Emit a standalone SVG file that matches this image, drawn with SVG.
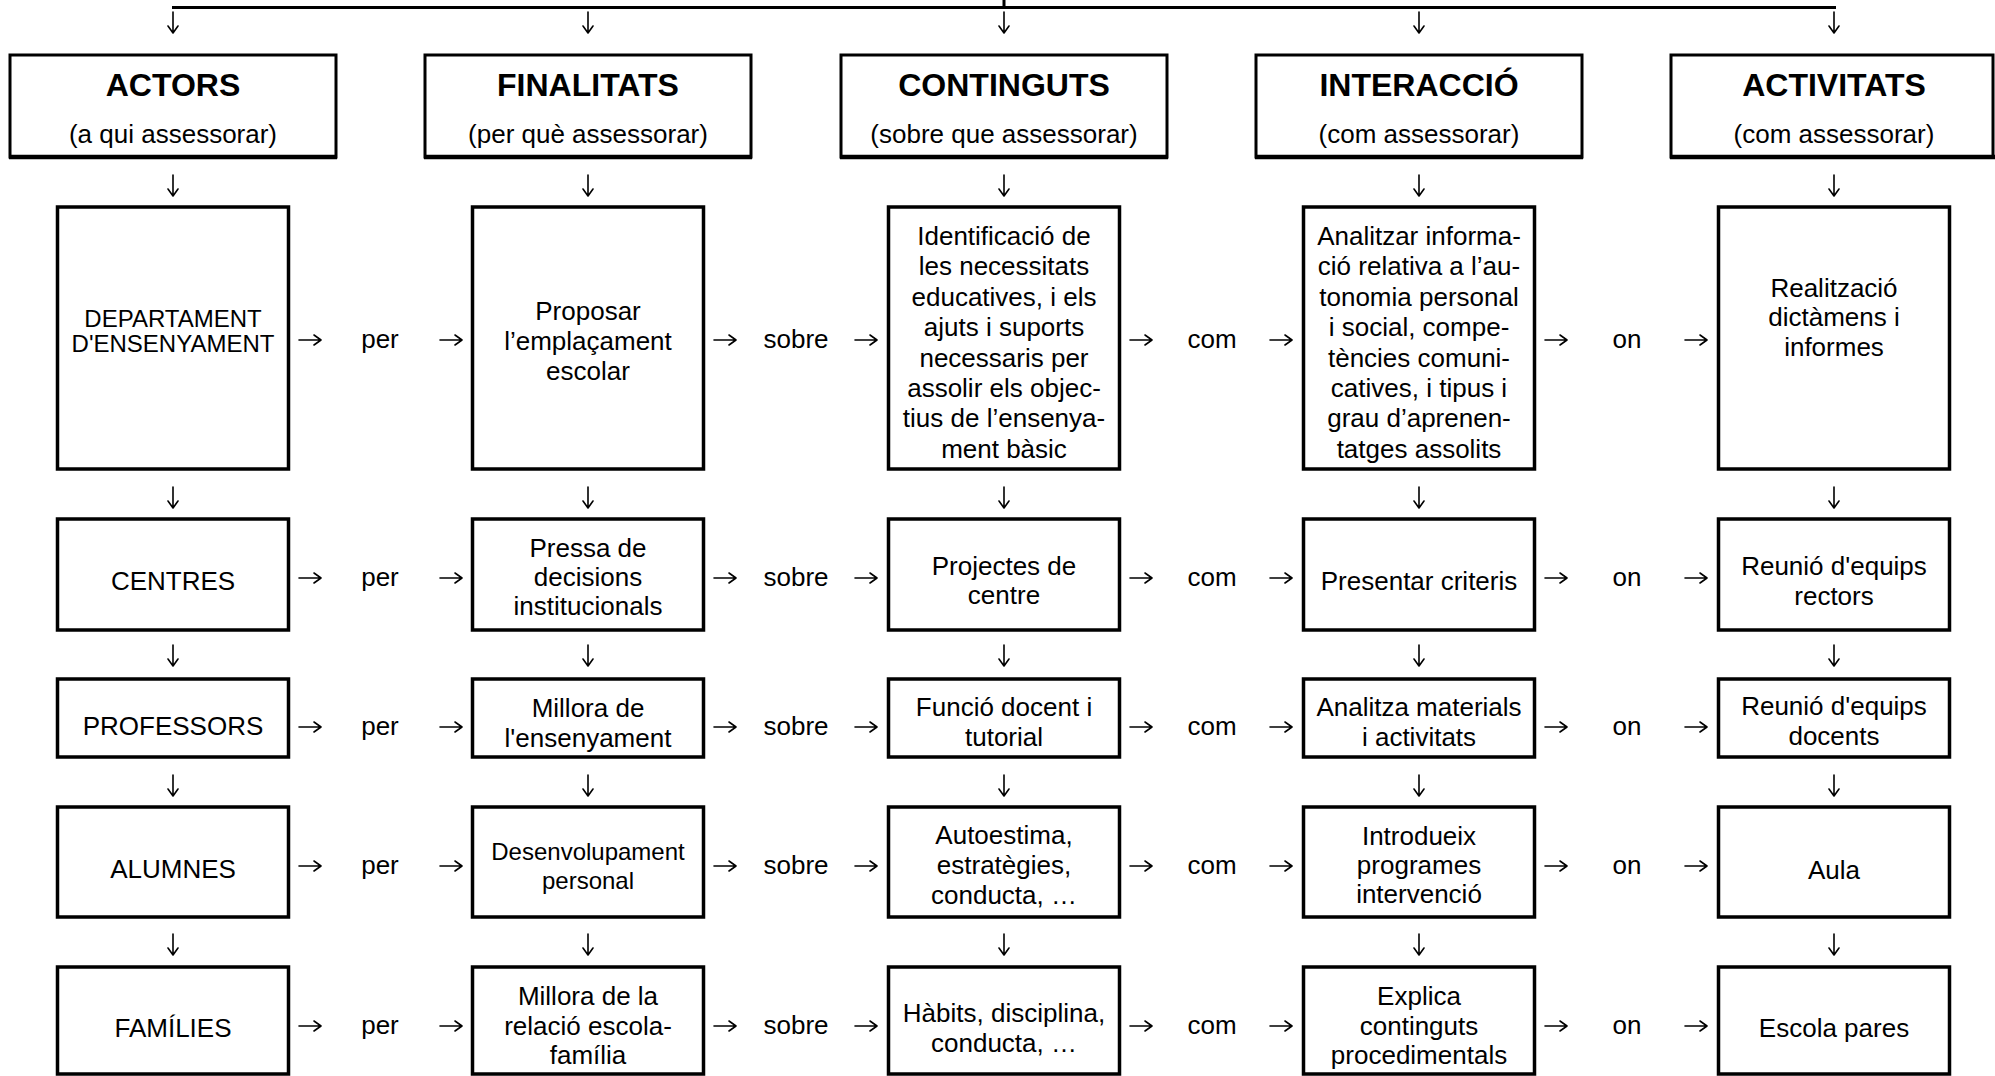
<svg xmlns="http://www.w3.org/2000/svg" xmlns:xlink="http://www.w3.org/1999/xlink" width="1995" height="1076" viewBox="0 0 1995 1076">
<style>
.bg{fill:#fff}
.hbox{fill:#fff;stroke:#000;stroke-width:3}
.hbot{stroke:#000;stroke-width:4.5}
.box{fill:#fff;stroke:#000;stroke-width:3.5}
.line{stroke:#000;stroke-width:3;fill:none}
.arr{stroke:#000;stroke-width:1.6;fill:none;stroke-linecap:round;stroke-linejoin:round}
text{font-family:"Liberation Sans",Arial,Helvetica,sans-serif;fill:#000;text-anchor:middle}
.title{font-size:32px;font-weight:bold}
.sub{font-size:26px}
.t{font-size:26px}
.s{font-size:24px}
.lbl{font-size:26px}
</style>
<defs>
<path id="ad" d="M0,0 V21 M-5,14 L0,21 L5,14"/>
<path id="ar" d="M0,0 H22 M15,-5 L22,0 L15,5"/>
</defs>
<rect class="bg" x="0" y="0" width="1995" height="1076"/>

<g id="connectors">
<path class="line" d="M172,7.5 H1836 M1004,0 V7.5"/>
<g class="arr">
<use xlink:href="#ad" x="173" y="12"/><use xlink:href="#ad" x="588" y="12"/><use xlink:href="#ad" x="1004" y="12"/><use xlink:href="#ad" x="1419" y="12"/><use xlink:href="#ad" x="1834" y="12"/>
<use xlink:href="#ad" x="173" y="175"/><use xlink:href="#ad" x="588" y="175"/><use xlink:href="#ad" x="1004" y="175"/><use xlink:href="#ad" x="1419" y="175"/><use xlink:href="#ad" x="1834" y="175"/>
<use xlink:href="#ad" x="173" y="487"/><use xlink:href="#ad" x="588" y="487"/><use xlink:href="#ad" x="1004" y="487"/><use xlink:href="#ad" x="1419" y="487"/><use xlink:href="#ad" x="1834" y="487"/>
<use xlink:href="#ad" x="173" y="645"/><use xlink:href="#ad" x="588" y="645"/><use xlink:href="#ad" x="1004" y="645"/><use xlink:href="#ad" x="1419" y="645"/><use xlink:href="#ad" x="1834" y="645"/>
<use xlink:href="#ad" x="173" y="775"/><use xlink:href="#ad" x="588" y="775"/><use xlink:href="#ad" x="1004" y="775"/><use xlink:href="#ad" x="1419" y="775"/><use xlink:href="#ad" x="1834" y="775"/>
<use xlink:href="#ad" x="173" y="934"/><use xlink:href="#ad" x="588" y="934"/><use xlink:href="#ad" x="1004" y="934"/><use xlink:href="#ad" x="1419" y="934"/><use xlink:href="#ad" x="1834" y="934"/>

<use xlink:href="#ar" x="299" y="340"/><use xlink:href="#ar" x="440" y="340"/>
<use xlink:href="#ar" x="714" y="340"/><use xlink:href="#ar" x="855" y="340"/>
<use xlink:href="#ar" x="1130" y="340"/><use xlink:href="#ar" x="1270" y="340"/>
<use xlink:href="#ar" x="1545" y="340"/><use xlink:href="#ar" x="1685" y="340"/>

<use xlink:href="#ar" x="299" y="578"/><use xlink:href="#ar" x="440" y="578"/>
<use xlink:href="#ar" x="714" y="578"/><use xlink:href="#ar" x="855" y="578"/>
<use xlink:href="#ar" x="1130" y="578"/><use xlink:href="#ar" x="1270" y="578"/>
<use xlink:href="#ar" x="1545" y="578"/><use xlink:href="#ar" x="1685" y="578"/>

<use xlink:href="#ar" x="299" y="727"/><use xlink:href="#ar" x="440" y="727"/>
<use xlink:href="#ar" x="714" y="727"/><use xlink:href="#ar" x="855" y="727"/>
<use xlink:href="#ar" x="1130" y="727"/><use xlink:href="#ar" x="1270" y="727"/>
<use xlink:href="#ar" x="1545" y="727"/><use xlink:href="#ar" x="1685" y="727"/>

<use xlink:href="#ar" x="299" y="866"/><use xlink:href="#ar" x="440" y="866"/>
<use xlink:href="#ar" x="714" y="866"/><use xlink:href="#ar" x="855" y="866"/>
<use xlink:href="#ar" x="1130" y="866"/><use xlink:href="#ar" x="1270" y="866"/>
<use xlink:href="#ar" x="1545" y="866"/><use xlink:href="#ar" x="1685" y="866"/>

<use xlink:href="#ar" x="299" y="1026"/><use xlink:href="#ar" x="440" y="1026"/>
<use xlink:href="#ar" x="714" y="1026"/><use xlink:href="#ar" x="855" y="1026"/>
<use xlink:href="#ar" x="1130" y="1026"/><use xlink:href="#ar" x="1270" y="1026"/>
<use xlink:href="#ar" x="1545" y="1026"/><use xlink:href="#ar" x="1685" y="1026"/>
</g>
<g class="lbl">
<text class="lbl" x="380" y="348">per</text><text class="lbl" x="796" y="348">sobre</text><text class="lbl" x="1212" y="348">com</text><text class="lbl" x="1627" y="348">on</text>
<text class="lbl" x="380" y="586">per</text><text class="lbl" x="796" y="586">sobre</text><text class="lbl" x="1212" y="586">com</text><text class="lbl" x="1627" y="586">on</text>
<text class="lbl" x="380" y="735">per</text><text class="lbl" x="796" y="735">sobre</text><text class="lbl" x="1212" y="735">com</text><text class="lbl" x="1627" y="735">on</text>
<text class="lbl" x="380" y="874">per</text><text class="lbl" x="796" y="874">sobre</text><text class="lbl" x="1212" y="874">com</text><text class="lbl" x="1627" y="874">on</text>
<text class="lbl" x="380" y="1034">per</text><text class="lbl" x="796" y="1034">sobre</text><text class="lbl" x="1212" y="1034">com</text><text class="lbl" x="1627" y="1034">on</text>
</g>
</g>

<!-- Header nodes -->
<g id="h-actors"><rect class="hbox" x="10" y="55" width="326" height="102"/><line class="hbot" x1="9" y1="157" x2="337" y2="157"/><text class="title" x="173" y="96">ACTORS</text><text class="sub" x="173" y="143">(a qui assessorar)</text></g>
<g id="h-finalitats"><rect class="hbox" x="425" y="55" width="326" height="102"/><line class="hbot" x1="424" y1="157" x2="752" y2="157"/><text class="title" x="588" y="96">FINALITATS</text><text class="sub" x="588" y="143">(per què assessorar)</text></g>
<g id="h-continguts"><rect class="hbox" x="841" y="55" width="326" height="102"/><line class="hbot" x1="840" y1="157" x2="1168" y2="157"/><text class="title" x="1004" y="96">CONTINGUTS</text><text class="sub" x="1004" y="143">(sobre que assessorar)</text></g>
<g id="h-interaccio"><rect class="hbox" x="1256" y="55" width="326" height="102"/><line class="hbot" x1="1255" y1="157" x2="1583" y2="157"/><text class="title" x="1419" y="96">INTERACCIÓ</text><text class="sub" x="1419" y="143">(com assessorar)</text></g>
<g id="h-activitats"><rect class="hbox" x="1671" y="55" width="322" height="102"/><line class="hbot" x1="1670" y1="157" x2="1995" y2="157"/><text class="title" x="1834" y="96">ACTIVITATS</text><text class="sub" x="1834" y="143">(com assessorar)</text></g>

<!-- Column 1: actors -->
<g id="a-departament"><rect class="box" x="57.5" y="207" width="231" height="262"/><text class="s" x="173" y="327">DEPARTAMENT</text><text class="s" x="173" y="352">D'ENSENYAMENT</text></g>
<g id="a-centres"><rect class="box" x="57.5" y="519" width="231" height="111"/><text class="t" x="173" y="590">CENTRES</text></g>
<g id="a-professors"><rect class="box" x="57.5" y="679" width="231" height="78"/><text class="t" x="173" y="735">PROFESSORS</text></g>
<g id="a-alumnes"><rect class="box" x="57.5" y="807" width="231" height="110"/><text class="t" x="173" y="878">ALUMNES</text></g>
<g id="a-families"><rect class="box" x="57.5" y="967" width="231" height="107"/><text class="t" x="173" y="1037">FAMÍLIES</text></g>

<!-- Column 2: finalitats -->
<g id="f-1"><rect class="box" x="472.5" y="207" width="231" height="262"/><text class="t" x="588" y="320">Proposar</text><text class="t" x="588" y="350">l’emplaçament</text><text class="t" x="588" y="380">escolar</text></g>
<g id="f-2"><rect class="box" x="472.5" y="519" width="231" height="111"/><text class="t" x="588" y="557">Pressa de</text><text class="t" x="588" y="586">decisions</text><text class="t" x="588" y="615">institucionals</text></g>
<g id="f-3"><rect class="box" x="472.5" y="679" width="231" height="78"/><text class="t" x="588" y="717">Millora de</text><text class="t" x="588" y="747">l'ensenyament</text></g>
<g id="f-4"><rect class="box" x="472.5" y="807" width="231" height="110"/><text class="s" x="588" y="860">Desenvolupament</text><text class="s" x="588" y="889">personal</text></g>
<g id="f-5"><rect class="box" x="472.5" y="967" width="231" height="107"/><text class="t" x="588" y="1005">Millora de la</text><text class="t" x="588" y="1035">relació escola-</text><text class="t" x="588" y="1064">família</text></g>

<!-- Column 3: continguts -->
<g id="c-1"><rect class="box" x="888.5" y="207" width="231" height="262"/>
<text class="t" x="1004" y="245">Identificació de</text>
<text class="t" x="1004" y="275.4">les necessitats</text>
<text class="t" x="1004" y="305.8">educatives, i els</text>
<text class="t" x="1004" y="336.2">ajuts i suports</text>
<text class="t" x="1004" y="366.6">necessaris per</text>
<text class="t" x="1004" y="397">assolir els objec-</text>
<text class="t" x="1004" y="427.4">tius de l’ensenya-</text>
<text class="t" x="1004" y="457.8">ment bàsic</text></g>
<g id="c-2"><rect class="box" x="888.5" y="519" width="231" height="111"/><text class="t" x="1004" y="575">Projectes de</text><text class="t" x="1004" y="604">centre</text></g>
<g id="c-3"><rect class="box" x="888.5" y="679" width="231" height="78"/><text class="t" x="1004" y="716">Funció docent i</text><text class="t" x="1004" y="746">tutorial</text></g>
<g id="c-4"><rect class="box" x="888.5" y="807" width="231" height="110"/><text class="t" x="1004" y="844">Autoestima,</text><text class="t" x="1004" y="874">estratègies,</text><text class="t" x="1004" y="904">conducta, …</text></g>
<g id="c-5"><rect class="box" x="888.5" y="967" width="231" height="107"/><text class="t" x="1004" y="1022">Hàbits, disciplina,</text><text class="t" x="1004" y="1052">conducta, …</text></g>

<!-- Column 4: interaccio -->
<g id="i-1"><rect class="box" x="1303.5" y="207" width="231" height="262"/>
<text class="t" x="1419" y="245">Analitzar informa-</text>
<text class="t" x="1419" y="275.4">ció relativa a l’au-</text>
<text class="t" x="1419" y="305.8">tonomia personal</text>
<text class="t" x="1419" y="336.2">i social, compe-</text>
<text class="t" x="1419" y="366.6">tències comuni-</text>
<text class="t" x="1419" y="397">catives, i tipus i</text>
<text class="t" x="1419" y="427.4">grau d’aprenen-</text>
<text class="t" x="1419" y="457.8">tatges assolits</text></g>
<g id="i-2"><rect class="box" x="1303.5" y="519" width="231" height="111"/><text class="t" x="1419" y="590">Presentar criteris</text></g>
<g id="i-3"><rect class="box" x="1303.5" y="679" width="231" height="78"/><text class="t" x="1419" y="716">Analitza materials</text><text class="t" x="1419" y="746">i activitats</text></g>
<g id="i-4"><rect class="box" x="1303.5" y="807" width="231" height="110"/><text class="t" x="1419" y="845">Introdueix</text><text class="t" x="1419" y="874">programes</text><text class="t" x="1419" y="903">intervenció</text></g>
<g id="i-5"><rect class="box" x="1303.5" y="967" width="231" height="107"/><text class="t" x="1419" y="1005">Explica</text><text class="t" x="1419" y="1035">continguts</text><text class="t" x="1419" y="1064">procedimentals</text></g>

<!-- Column 5: activitats -->
<g id="ac-1"><rect class="box" x="1718.5" y="207" width="231" height="262"/><text class="t" x="1834" y="297">Realització</text><text class="t" x="1834" y="326">dictàmens i</text><text class="t" x="1834" y="356">informes</text></g>
<g id="ac-2"><rect class="box" x="1718.5" y="519" width="231" height="111"/><text class="t" x="1834" y="575">Reunió d'equips</text><text class="t" x="1834" y="605">rectors</text></g>
<g id="ac-3"><rect class="box" x="1718.5" y="679" width="231" height="78"/><text class="t" x="1834" y="715">Reunió d'equips</text><text class="t" x="1834" y="745">docents</text></g>
<g id="ac-4"><rect class="box" x="1718.5" y="807" width="231" height="110"/><text class="t" x="1834" y="879">Aula</text></g>
<g id="ac-5"><rect class="box" x="1718.5" y="967" width="231" height="107"/><text class="t" x="1834" y="1037">Escola pares</text></g>
</svg>
